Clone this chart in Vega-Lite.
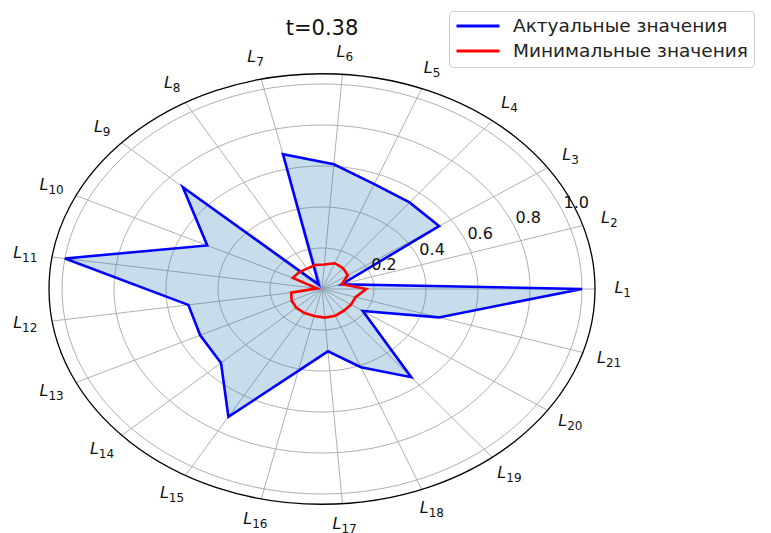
{
  "$schema": "https://vega.github.io/schema/vega-lite/v6.json",
  "width": 771,
  "height": 533,
  "autosize": {"type": "none"},
  "padding": 0,
  "background": "white",
  "config": {"font": "DejaVu Sans", "view": {"stroke": null}},
  "title": {"text": "t=0.38", "fontSize": 21, "fontWeight": "normal", "color": "#111", "anchor": "middle", "frame": "group", "dx": -63.5, "dy": 26, "offset": -30, "baseline": "alphabetic"},
  "datasets": {
    "pts": [
      {"k": 1, "Актуальные значения": 1.0, "Минимальные значения": 0.17},
      {"k": 2, "Актуальные значения": 0.08, "Минимальные значения": 0.08},
      {"k": 3, "Актуальные значения": 0.545, "Минимальные значения": 0.12},
      {"k": 4, "Актуальные значения": 0.54, "Минимальные значения": 0.13},
      {"k": 5, "Актуальные значения": 0.55, "Минимальные значения": 0.135},
      {"k": 6, "Актуальные значения": 0.61, "Минимальные значения": 0.12},
      {"k": 7, "Актуальные значения": 0.675, "Минимальные значения": 0.12},
      {"k": 8, "Актуальные значения": 0.025, "Минимальные значения": 0.115},
      {"k": 9, "Актуальные значения": 0.73, "Минимальные значения": 0.12},
      {"k": 10, "Актуальные значения": 0.49, "Минимальные значения": 0.125},
      {"k": 11, "Актуальные значения": 1.0, "Минимальные значения": 0.02},
      {"k": 12, "Актуальные значения": 0.52, "Минимальные значения": 0.12},
      {"k": 13, "Актуальные значения": 0.52, "Минимальные значения": 0.13},
      {"k": 14, "Актуальные значения": 0.53, "Минимальные значения": 0.135},
      {"k": 15, "Актуальные значения": 0.72, "Минимальные значения": 0.135},
      {"k": 16, "Актуальные значения": 0.41, "Минимальные значения": 0.135},
      {"k": 17, "Актуальные значения": 0.305, "Минимальные значения": 0.14},
      {"k": 18, "Актуальные значения": 0.41, "Минимальные значения": 0.14},
      {"k": 19, "Актуальные значения": 0.55, "Минимальные значения": 0.135},
      {"k": 20, "Актуальные значения": 0.19, "Минимальные значения": 0.135},
      {"k": 21, "Актуальные значения": 0.47, "Минимальные значения": 0.135}
    ],
    "rings": [{"r": 0.2}, {"r": 0.4}, {"r": 0.6}, {"r": 0.8}, {"r": 1.0}],
    "outer": [{"r": 1.05}]
  },
  "layer": [
    {
      "data": {"name": "rings"},
      "mark": {"type": "point", "shape": "M1,0C1,0.4355 0.5523,0.7885 0,0.7885C-0.5523,0.7885 -1,0.4355 -1,0C-1,-0.4355 -0.5523,-0.7885 0,-0.7885C0.5523,-0.7885 1,-0.4355 1,0Z", "filled": false, "stroke": "#b0b0b0", "strokeWidth": 1, "opacity": 1},
      "encoding": {
        "x": {"datum": 0, "type": "quantitative", "scale": {"domain": [-1.2385, 1.7269], "nice": false, "zero": false}, "axis": null},
        "y": {"datum": 0, "type": "quantitative", "scale": {"domain": [-1.1902, 1.4098], "nice": false, "zero": false}, "axis": null},
        "size": {"field": "r", "type": "quantitative", "scale": {"type": "pow", "exponent": 2, "domain": [0, 1.05], "range": [0, 298116]}, "legend": null}
      }
    },
    {
      "data": {"name": "pts"},
      "transform": [
        {"calculate": "(datum.k - 1) * 2 * PI / 21", "as": "t"},
        {"calculate": "1.05 * cos(datum.t)", "as": "sx"},
        {"calculate": "1.05 * sin(datum.t)", "as": "sy"}
      ],
      "mark": {"type": "rule", "stroke": "#b0b0b0", "strokeWidth": 1},
      "encoding": {
        "x": {"field": "sx", "type": "quantitative"},
        "y": {"field": "sy", "type": "quantitative"},
        "x2": {"datum": 0},
        "y2": {"datum": 0}
      }
    },
    {
      "data": {"name": "pts"},
      "transform": [
        {"calculate": "(datum.k - 1) * 2 * PI / 21", "as": "t"},
        {"calculate": "datum['Актуальные значения'] * cos(datum.t)", "as": "fx"},
        {"calculate": "datum['Актуальные значения'] * sin(datum.t)", "as": "fy"}
      ],
      "mark": {"type": "line", "interpolate": "linear-closed", "fill": "#1f77b4", "fillOpacity": 0.25, "strokeOpacity": 0},
      "encoding": {
        "x": {"field": "fx", "type": "quantitative"},
        "y": {"field": "fy", "type": "quantitative"},
        "order": {"field": "k", "type": "quantitative"}
      }
    },
    {
      "data": {"name": "pts"},
      "transform": [
        {"fold": ["Актуальные значения", "Минимальные значения"], "as": ["series", "value"]},
        {"calculate": "(datum.k - 1) * 2 * PI / 21", "as": "t"},
        {"calculate": "datum.value * cos(datum.t)", "as": "px"},
        {"calculate": "datum.value * sin(datum.t)", "as": "py"}
      ],
      "mark": {"type": "line", "interpolate": "linear-closed", "strokeWidth": 2.6},
      "encoding": {
        "x": {"field": "px", "type": "quantitative"},
        "y": {"field": "py", "type": "quantitative"},
        "order": {"field": "k", "type": "quantitative"},
        "color": {
          "field": "series", "type": "nominal",
          "scale": {"domain": ["Актуальные значения", "Минимальные значения"], "range": ["#0000ff", "#ff0000"]},
          "legend": {"title": null, "orient": "none", "legendX": 449, "legendY": 11, "symbolType": "stroke", "symbolSize": 1849, "symbolStrokeWidth": 3, "clipHeight": 18, "rowPadding": 6, "padding": 6, "labelFontSize": 18.5, "labelFont": "DejaVu Sans", "labelColor": "#222", "labelOffset": 12, "labelLimit": 600, "strokeColor": "#cccccc", "fillColor": "white", "cornerRadius": 4}
        }
      }
    },
    {
      "data": {"name": "outer"},
      "mark": {"type": "point", "shape": "M1,0C1,0.4355 0.5523,0.7885 0,0.7885C-0.5523,0.7885 -1,0.4355 -1,0C-1,-0.4355 -0.5523,-0.7885 0,-0.7885C0.5523,-0.7885 1,-0.4355 1,0Z", "filled": false, "stroke": "#000000", "strokeWidth": 1.3, "opacity": 1},
      "encoding": {
        "x": {"datum": 0, "type": "quantitative"},
        "y": {"datum": 0, "type": "quantitative"},
        "size": {"field": "r", "type": "quantitative", "legend": null}
      }
    },
    {
      "data": {"name": "pts"},
      "transform": [
        {"filter": "datum.k < 10"},
        {"calculate": "(datum.k - 1) * 2 * PI / 21", "as": "t"},
        {"calculate": "1.155 * cos(datum.t)", "as": "lx"},
        {"calculate": "1.155 * sin(datum.t)", "as": "ly"}
      ],
      "mark": {"type": "text", "text": "L", "fontStyle": "italic", "fontSize": 16, "align": "right", "baseline": "middle", "dx": 1, "dy": -1, "color": "#111"},
      "encoding": {
        "x": {"field": "lx", "type": "quantitative"},
        "y": {"field": "ly", "type": "quantitative"}
      }
    },
    {
      "data": {"name": "pts"},
      "transform": [
        {"filter": "datum.k < 10"},
        {"calculate": "(datum.k - 1) * 2 * PI / 21", "as": "t"},
        {"calculate": "1.155 * cos(datum.t)", "as": "lx"},
        {"calculate": "1.155 * sin(datum.t)", "as": "ly"}
      ],
      "mark": {"type": "text", "fontSize": 12, "align": "left", "baseline": "middle", "dx": 1, "dy": 4, "color": "#111"},
      "encoding": {
        "x": {"field": "lx", "type": "quantitative"},
        "y": {"field": "ly", "type": "quantitative"},
        "text": {"field": "k", "type": "nominal"}
      }
    },
    {
      "data": {"name": "pts"},
      "transform": [
        {"filter": "datum.k >= 10"},
        {"calculate": "(datum.k - 1) * 2 * PI / 21", "as": "t"},
        {"calculate": "1.155 * cos(datum.t)", "as": "lx"},
        {"calculate": "1.155 * sin(datum.t)", "as": "ly"}
      ],
      "mark": {"type": "text", "text": "L", "fontStyle": "italic", "fontSize": 16, "align": "right", "baseline": "middle", "dx": -3, "dy": -1, "color": "#111"},
      "encoding": {
        "x": {"field": "lx", "type": "quantitative"},
        "y": {"field": "ly", "type": "quantitative"}
      }
    },
    {
      "data": {"name": "pts"},
      "transform": [
        {"filter": "datum.k >= 10"},
        {"calculate": "(datum.k - 1) * 2 * PI / 21", "as": "t"},
        {"calculate": "1.155 * cos(datum.t)", "as": "lx"},
        {"calculate": "1.155 * sin(datum.t)", "as": "ly"}
      ],
      "mark": {"type": "text", "fontSize": 12, "align": "left", "baseline": "middle", "dx": -3, "dy": 4, "color": "#111"},
      "encoding": {
        "x": {"field": "lx", "type": "quantitative"},
        "y": {"field": "ly", "type": "quantitative"},
        "text": {"field": "k", "type": "nominal"}
      }
    },
    {
      "data": {"name": "rings"},
      "transform": [
        {"calculate": "datum.r * cos(PI / 8)", "as": "tx"},
        {"calculate": "datum.r * sin(PI / 8)", "as": "ty"}
      ],
      "mark": {"type": "text", "fontSize": 16, "align": "center", "baseline": "middle", "dx": 14, "dy": -8, "color": "#111"},
      "encoding": {
        "x": {"field": "tx", "type": "quantitative"},
        "y": {"field": "ty", "type": "quantitative"},
        "text": {"field": "r", "type": "quantitative", "format": ".1f"}
      }
    }
  ]
}
